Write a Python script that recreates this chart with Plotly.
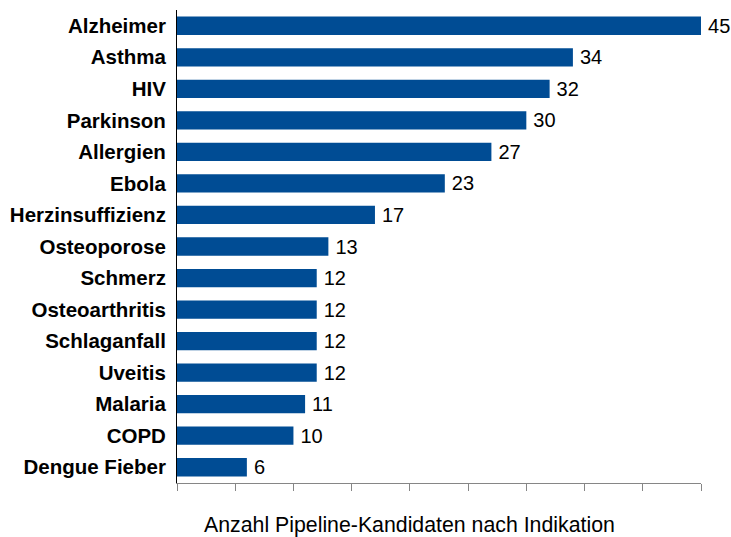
import plotly.graph_objects as go

categories = ["Alzheimer", "Asthma", "HIV", "Parkinson", "Allergien", "Ebola",
              "Herzinsuffizienz", "Osteoporose", "Schmerz", "Osteoarthritis",
              "Schlaganfall", "Uveitis", "Malaria", "COPD", "Dengue Fieber"]
values = [45, 34, 32, 30, 27, 23, 17, 13, 12, 12, 12, 12, 11, 10, 6]
x_title = "Anzahl Pipeline-Kandidaten nach Indikation"

fig = go.Figure(go.Bar(
    x=values, y=categories, orientation="h",
    marker=dict(color="#004C94", line=dict(width=0)),
    text=values, texttemplate="\u2009%{x}", textposition="outside",
    constraintext="none",
    textfont=dict(family="Liberation Sans, Arial", size=20, color="#000000"),
    cliponaxis=False,
))

fig.update_layout(
    width=731, height=537,
    margin=dict(l=177, r=30, t=10, b=54, autoexpand=False),
    plot_bgcolor="white", paper_bgcolor="white",
    bargap=0.42,
    showlegend=False,
    hovermode=False,
    font=dict(family="Liberation Sans, Arial", color="#000000"),
)
fig.update_yaxes(
    categoryorder="array", categoryarray=categories, autorange="reversed",
    showline=True, linecolor="#000000", linewidth=1,
    ticks="", ticklabelstandoff=6, automargin=False,
    tickfont=dict(family="Liberation Sans, Arial", size=20.5, color="#000000", weight="bold"),
    showgrid=False, zeroline=False,
)
fig.update_xaxes(
    range=[0, 45], dtick=5, tick0=0, automargin=False,
    showline=True, linecolor="#868686", linewidth=1,
    ticks="outside", ticklen=7, tickcolor="#868686", tickwidth=1,
    showticklabels=False, showgrid=False, zeroline=False,
)
fig.add_annotation(
    text=x_title, xref="paper", yref="paper", x=0.444, y=0, yshift=-42,
    xanchor="center", yanchor="middle", showarrow=False,
    font=dict(family="Liberation Sans, Arial", size=21.3, color="#000000"),
)

fig.write_html(
    "out.html",
    config={"displayModeBar": False, "staticPlot": True},
    post_script="document.body.style.margin='0';document.body.style.overflow='hidden';",
)
